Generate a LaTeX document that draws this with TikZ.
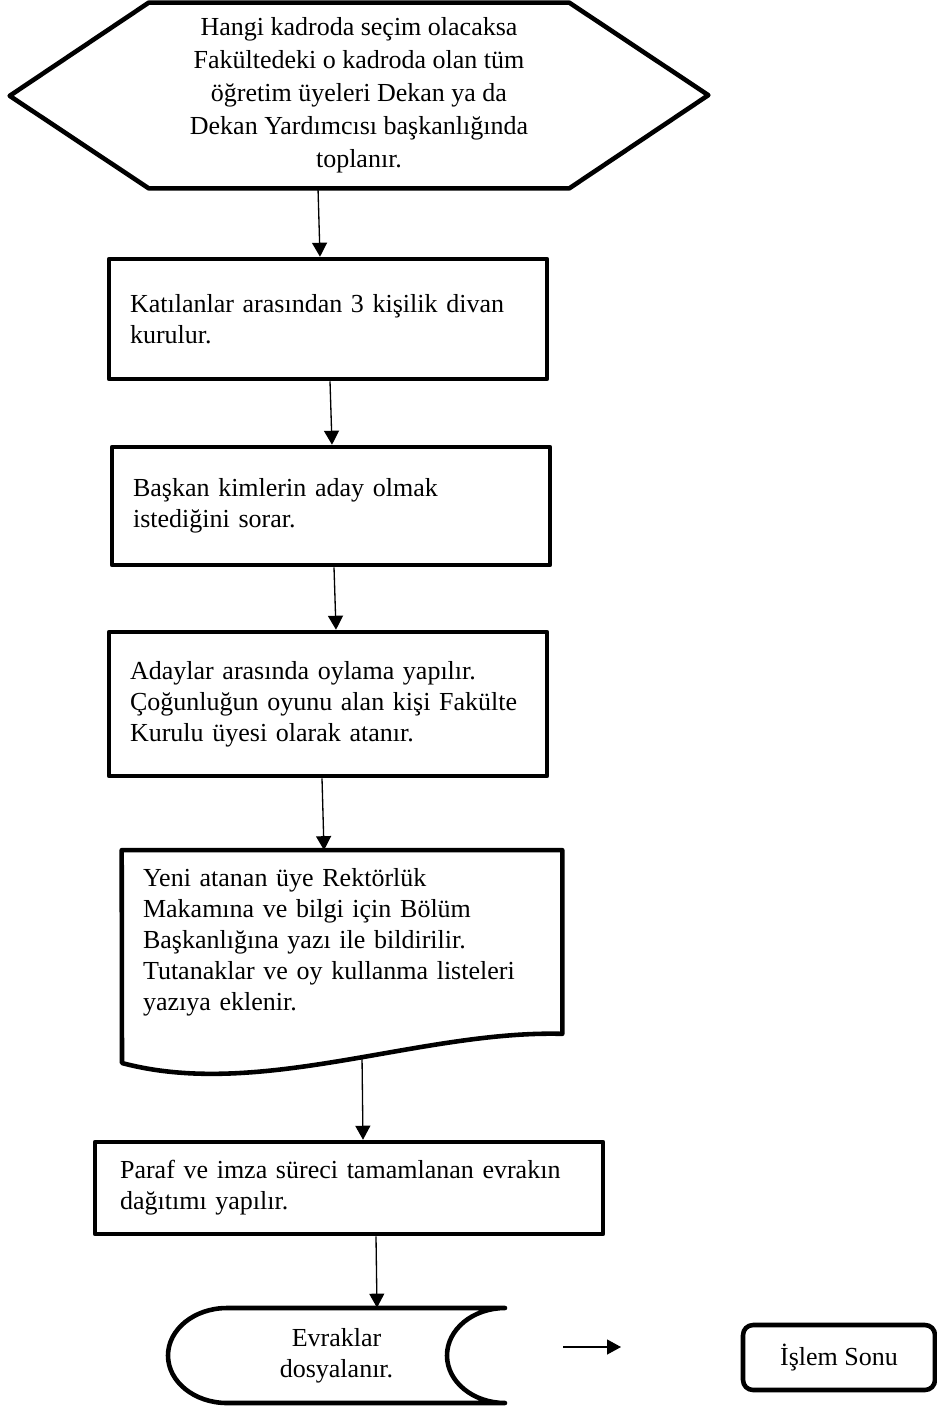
\documentclass[tikz,border=0pt]{standalone}
\usepackage{fontspec}
\setmainfont{Liberation Serif}
\usetikzlibrary{arrows.meta}

\begin{document}
\begin{tikzpicture}[x=0.02cm, y=-0.02cm,
    every node/.style={font=\fontsize{14.8pt}{17.6pt}\selectfont},
    outline/.style={line width=2.6pt, line join=round, line cap=round},
    procbox/.style={outline, draw, rectangle, align=left, inner xsep=0.42cm, inner ysep=0pt},
    flow/.style={line width=0.75pt, -{Triangle[length=0.28cm, width=0.3cm]}}]
  \useasboundingbox (0,0) rectangle (936,1408);

  % hazirlik (hexagon)
  \node (hex) at (359,95.5) [minimum width=8.4cm, minimum height=3.7cm, align=center,
      font=\fontsize{14.8pt}{18.8pt}\selectfont]
    {Hangi kadroda seçim olacaksa\\Fakültedeki o kadroda olan tüm\\öğretim üyeleri Dekan ya da\\Dekan Yardımcısı başkanlığında\\toplanır.};
  \draw[outline] (hex.north west) -- (hex.north east) -- ++(139,92.5)
    -- (hex.south east) -- (hex.south west) -- ++(-139,-92.5) -- cycle;

  % islem kutulari
  \node[procbox, text width=7.92cm, minimum height=2.4cm] (kurul) at (328,319)
    {Katılanlar arasından 3 kişilik divan\\kurulur.};
  \node[procbox, text width=7.92cm, minimum height=2.36cm] (aday) at (331,506)
    {Başkan kimlerin aday olmak\\istediğini sorar.};
  \node[procbox, text width=7.92cm, minimum height=2.88cm] (oylama) at (328,704)
    {Adaylar arasında oylama yapılır.\\Çoğunluğun oyunu alan kişi Fakülte\\Kurulu üyesi olarak atanır.};

  % belge
  \node[align=left, text width=7.96cm, inner xsep=0.42cm, minimum height=3.66cm] (yazi) at (342,942)
    {Yeni atanan üye Rektörlük\\Makamına ve bilgi için Bölüm\\Başkanlığına yazı ile bildirilir.\\Tutanaklar ve oy kullanma listeleri\\yazıya eklenir.};
  \draw[outline] (yazi.south east) -- (yazi.north east) -- (yazi.north west) -- (122,1063)
    .. controls (260,1100) and (420,1030) .. (yazi.south east);
  \coordinate (yazialt) at (362,1056);

  \node[procbox, inner xsep=0.5cm, text width=9.16cm, minimum height=1.84cm] (dagitim) at (349,1188)
    {Paraf ve imza süreci tamamlanan evrakın\\dağıtımı yapılır.};

  % dosyalama
  \node[align=center, inner sep=0pt, minimum width=5.58cm, minimum height=1.9cm] (dosya) at (336.5,1355.5)
    {Evraklar\\dosyalanır.};
  \draw[outline] (505,1308) -- (227,1308) .. controls (194.4,1308) and (168,1329.3) .. (168,1355.5)
    .. controls (168,1381.7) and (194.4,1403) .. (227,1403) -- (505,1403)
    .. controls (473,1403) and (447,1381.7) .. (447,1355.5)
    .. controls (447,1329.3) and (473,1308) .. (505,1308);

  \node[outline, draw, rounded corners=0.2cm, minimum width=3.84cm, minimum height=1.3cm] (son) at (839,1357.5) {İşlem Sonu};

  % oklar
  \draw[flow] ([xshift=-0.82cm]hex.south) -- ([xshift=-0.16cm]kurul.north);
  \draw[flow] ([xshift=0.04cm]kurul.south) -- ([xshift=0.02cm]aday.north);
  \draw[flow] ([xshift=0.06cm]aday.south) -- ([xshift=0.16cm]oylama.north);
  \draw[flow] ([xshift=-0.12cm]oylama.south) -- ([xshift=-0.36cm]yazi.north);
  \draw[flow] (yazialt) -- ([xshift=0.28cm]dagitim.north);
  \draw[flow] ([xshift=0.54cm]dagitim.south) -- ([xshift=0.81cm]dosya.north);
  \coordinate (okbas) at (563,1347);
  \coordinate (okuc) at (621,1347);
  \draw[flow] (okbas) -- (okuc);
\end{tikzpicture}
\end{document}
